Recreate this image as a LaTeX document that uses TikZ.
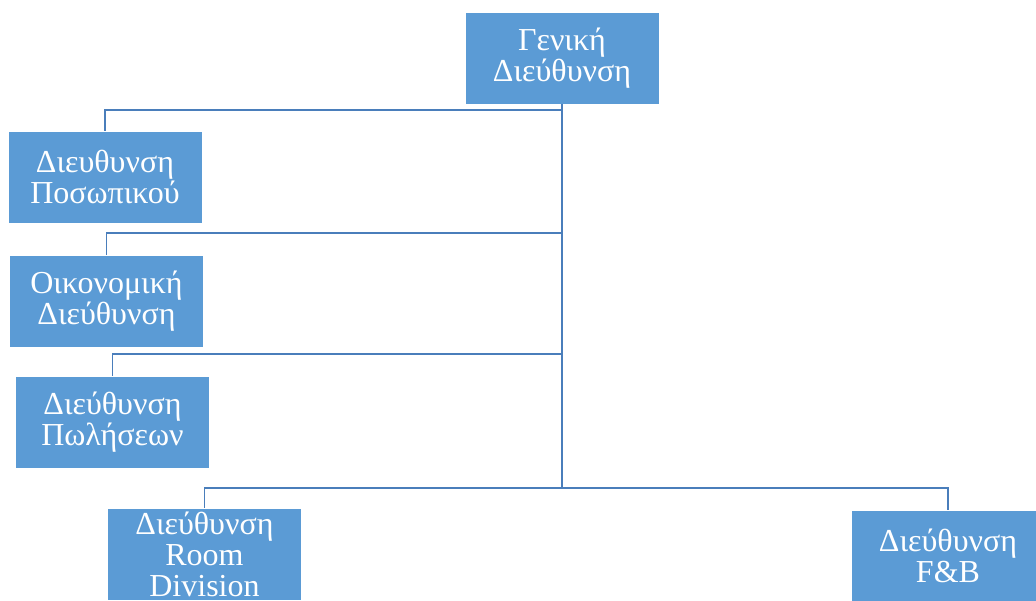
\documentclass[tikz,border=0pt]{standalone}
\usepackage{fontspec}
\setmainfont{Liberation Serif}
\definecolor{boxblue}{HTML}{5B9BD5}
\definecolor{lineblue}{HTML}{4A7EBB}
\tikzset{
    dept/.style={rectangle, fill=boxblue, draw=white, line width=0.6pt, text=white,
        minimum width=194pt, minimum height=92pt, inner sep=0pt, align=center,
        font=\fontsize{32}{31}\selectfont},
    conn/.style={draw=lineblue, line width=1.9pt}
}
\begin{document}
\begin{tikzpicture}[x=1pt,y=-1pt]
    \useasboundingbox (0,0) rectangle (1036,601);

    \node[dept] (gen) at (562,58) {Γενική\\Διεύθυνση};
    \node[dept] (pos) at (105,177) {Διευθυνση\\Ποσωπικού};
    \node[dept] (oik) at (106.5,301) {Οικονομική\\Διεύθυνση};
    \node[dept] (pol) at (112.5,422) {Διεύθυνση\\Πωλήσεων};
    \node[dept] (room) at (204.5,554) {Διεύθυνση\\Room\\Division};
    \node[dept] (fb) at (948,556) {Διεύθυνση\\F\&B};

    \coordinate (b1) at (562,110);
    \coordinate (b2) at (562,233);
    \coordinate (b3) at (562,354);
    \coordinate (b4) at (562,488);

    \draw[conn] (gen.south) -- (b4);
    \draw[conn] (b1) -| (pos.north);
    \draw[conn] (b2) -| (oik.north);
    \draw[conn] (b3) -| (pol.north);
    \draw[conn] (b4) -| (room.north);
    \draw[conn] (b4) -| (fb.north);
\end{tikzpicture}
\end{document}
